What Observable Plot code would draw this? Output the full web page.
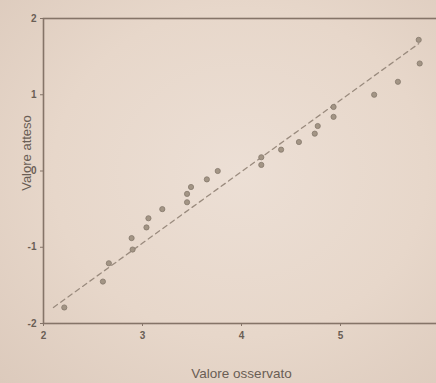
<!DOCTYPE html>
<html>
<head>
<meta charset="utf-8">
<script src="https://cdn.jsdelivr.net/npm/d3@7"></script>
<script src="https://cdn.jsdelivr.net/npm/@observablehq/plot@0.6"></script>
<style>
  html, body { margin: 0; padding: 0; }
  body {
    width: 436px; height: 383px; overflow: hidden;
    background: radial-gradient(ellipse at 55% 45%, #ecdfd5 0%, #e7d7ca 55%, #dccabc 100%);
  }
  svg { display: block; background: transparent !important; }
</style>
</head>
<body>
<div id="chart"></div>
<script>
// Observed values (x) and expected normal values (y)
const observed = [2.21, 2.60, 2.66, 2.90, 2.89, 3.04, 3.06, 3.20, 3.45, 3.45, 3.49, 3.65, 3.76,
                  4.20, 4.20, 4.40, 4.58, 4.74, 4.77, 4.93, 4.93, 5.34, 5.58, 5.80, 5.79];
const expected = [-1.79, -1.45, -1.21, -1.03, -0.88, -0.74, -0.62, -0.50, -0.41, -0.30, -0.21, -0.11, 0.00,
                  0.08, 0.18, 0.28, 0.38, 0.49, 0.59, 0.71, 0.84, 1.00, 1.17, 1.41, 1.72];
// Reference (dashed) line endpoints
const refX = [2.10, 5.79];
const refY = [-1.79, 1.67];
const xTicks = [2, 3, 4, 5, 6];
const yTicks = [-2, -1, 0, 1, 2];
const xLabel = "Valore osservato";
const yLabel = "Valore atteso";

const points = observed.map((x, i) => ({x, y: expected[i]}));
const refLine = refX.map((x, i) => ({x, y: refY[i]}));

const ink = "#6a5e55";
const chart = Plot.plot({
  width: 436,
  height: 383,
  marginLeft: 43,
  marginRight: -3,
  marginTop: 18,
  marginBottom: 60,
  style: {fontFamily: "Liberation Sans, Arial, sans-serif", fontSize: "10px", color: ink, background: "transparent"},
  x: {domain: [2, 6]},
  y: {domain: [-2, 2]},
  marks: [
    Plot.frame({stroke: "#857468", strokeWidth: 1.6}),
    Plot.axisX({ticks: xTicks, tickSize: 3, tickPadding: 5, tickFormat: d => String(d), label: null, stroke: "#857468", fill: ink, fontWeight: "bold"}),
    Plot.axisY({ticks: yTicks, tickSize: 3, tickPadding: 4, tickFormat: d => String(d), label: null, stroke: "#857468", fill: ink, fontWeight: "bold"}),
    Plot.line(refLine, {x: "x", y: "y", stroke: "#9a8b7e", strokeWidth: 1.3, strokeDasharray: "5,4"}),
    Plot.dot(points, {x: "x", y: "y", r: 2.6, fill: "#a39585", stroke: "#85786c", strokeWidth: 0.8}),
    Plot.text([xLabel], {frameAnchor: "bottom", dy: 50, fontSize: 13.5, fill: ink, lineAnchor: "middle"}),
    Plot.text([yLabel], {frameAnchor: "left", rotate: -90, dx: -17, dy: -18, fontSize: 13, fill: ink, lineAnchor: "middle", textAnchor: "middle"})
  ]
});
document.getElementById("chart").appendChild(chart);
</script>
</body>
</html>
